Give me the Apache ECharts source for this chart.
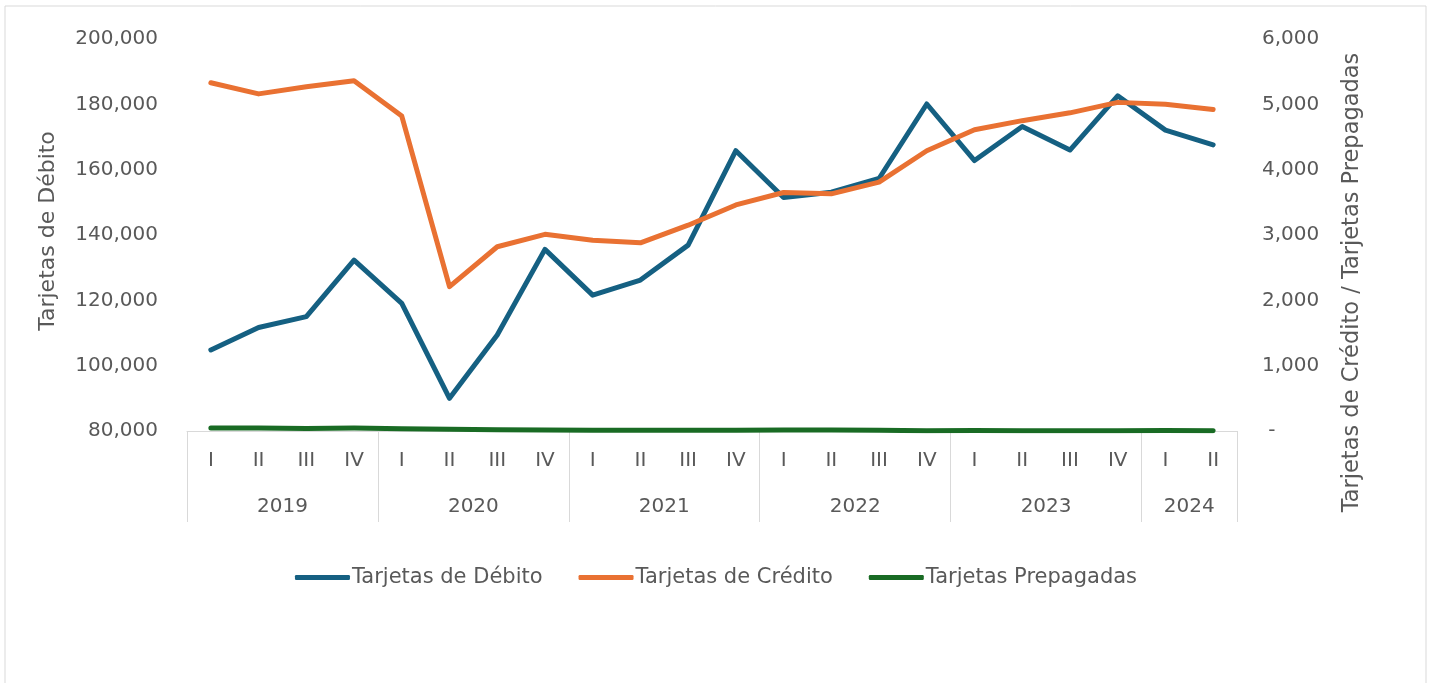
<!DOCTYPE html>
<html>
<head>
<meta charset="utf-8">
<script src="https://cdn.jsdelivr.net/npm/echarts@6/dist/echarts.min.js"></script>
<style>
  html, body { margin: 0; padding: 0; background: #fff; }
  #main { width: 1432px; height: 683px; }
</style>
</head>
<body>
<div id="main"></div>
<script>
// trimestres y años (eje de categorías en dos niveles)
var quarters = ["I","II","III","IV","I","II","III","IV","I","II","III","IV","I","II","III","IV","I","II","III","IV","I","II"];
var years = ["2019","2020","2021","2022","2023","2024"];
var quartersPerYear = [4, 4, 4, 4, 4, 2];

// valores
var debito = [104800,111700,115000,132300,119100,90000,109400,135600,121600,126200,136900,165800,151500,153100,157300,180100,162800,173200,166000,182600,172100,167600];
var credito = [5330,5160,5270,5360,4820,2210,2820,3010,2920,2880,3150,3460,3650,3630,3810,4290,4610,4750,4870,5030,5000,4920];
var prepagadas = [45,45,40,45,35,25,20,15,10,10,12,12,15,15,10,5,8,5,5,5,8,5];

var gris = "#595959";
var fuente = "DejaVu Sans";

function miles(v) {
  return String(v).replace(/\B(?=(\d{3})+(?!\d))/g, ",");
}

// posiciones de separadores y etiquetas de año en el eje auxiliar
var sepYear = [0];
var midYear = [];
var acc = 0;
quartersPerYear.forEach(function (n) {
  midYear.push(acc + n / 2);
  acc += n;
  sepYear.push(acc);
});

var chart = echarts.init(document.getElementById("main"));
chart.setOption({
  animation: false,
  textStyle: { fontFamily: fuente },
  graphic: [
    {
      type: "rect",
      shape: { x: 5, y: 6, width: 1421, height: 720 },
      style: { fill: "none", stroke: "#d9d9d9", lineWidth: 1 },
      silent: true
    }
  ],
  legend: {
    bottom: 90,
    left: "center",
    itemWidth: 55,
    itemHeight: 5,
    itemGap: 36,
    icon: "roundRect",
    textStyle: { color: gris, fontSize: 21, fontFamily: fuente, padding: [0, 0, 0, -3] },
    data: ["Tarjetas de Débito", "Tarjetas de Crédito", "Tarjetas Prepagadas"]
  },
  grid: {
    left: 187,
    right: 195,
    top: 39,
    bottom: 252
  },
  xAxis: [
    {
      type: "category",
      position: "bottom",
      data: quarters,
      boundaryGap: true,
      axisLine: { lineStyle: { color: "#d9d9d9", width: 1 } },
      axisTick: { show: false },
      axisLabel: { color: gris, fontSize: 20, margin: 20, interval: 0 },
      splitLine: { show: false }
    },
    {
      type: "value",
      position: "bottom",
      min: 0,
      max: quarters.length,
      axisLine: { show: false },
      splitLine: { show: false },
      axisTick: {
        show: true,
        customValues: sepYear,
        length: 91,
        lineStyle: { color: "#d9d9d9", width: 1 }
      },
      axisLabel: {
        show: true,
        customValues: midYear,
        margin: 66,
        color: gris,
        fontSize: 20,
        formatter: function (v) {
          var i = midYear.indexOf(v);
          return i >= 0 ? years[i] : "";
        }
      }
    }
  ],
  yAxis: [
    {
      type: "value",
      position: "left",
      min: 80000,
      max: 200000,
      interval: 20000,
      name: "Tarjetas de Débito",
      nameLocation: "middle",
      nameRotate: 90,
      nameGap: 128,
      nameTextStyle: { color: gris, fontSize: 22, padding: [0, 0, 0, 8] },
      axisLine: { show: false },
      axisTick: { show: false },
      splitLine: { show: false },
      axisLabel: {
        color: gris,
        fontSize: 20,
        margin: 29,
        formatter: function (v) { return miles(v); }
      }
    },
    {
      type: "value",
      position: "right",
      min: 0,
      max: 6000,
      interval: 1000,
      name: "Tarjetas de Crédito / Tarjetas Prepagadas",
      nameLocation: "middle",
      nameRotate: 90,
      nameGap: 104,
      nameTextStyle: { color: gris, fontSize: 22.5, padding: [0, 95, 0, 0] },
      axisLine: { show: false },
      axisTick: { show: false },
      splitLine: { show: false },
      axisLabel: {
        color: gris,
        fontSize: 20,
        margin: 25,
        formatter: function (v) { return v === 0 ? " -" : miles(v); }
      }
    }
  ],
  series: [
    {
      name: "Tarjetas de Débito",
      type: "line",
      yAxisIndex: 0,
      data: debito,
      showSymbol: false,
      color: "#156082",
      lineStyle: { width: 5, cap: "round", join: "round" }
    },
    {
      name: "Tarjetas de Crédito",
      type: "line",
      yAxisIndex: 1,
      data: credito,
      showSymbol: false,
      color: "#E97132",
      lineStyle: { width: 5, cap: "round", join: "round" }
    },
    {
      name: "Tarjetas Prepagadas",
      type: "line",
      yAxisIndex: 1,
      data: prepagadas,
      showSymbol: false,
      color: "#196B24",
      lineStyle: { width: 5, cap: "round", join: "round" }
    }
  ]
});
</script>
</body>
</html>
